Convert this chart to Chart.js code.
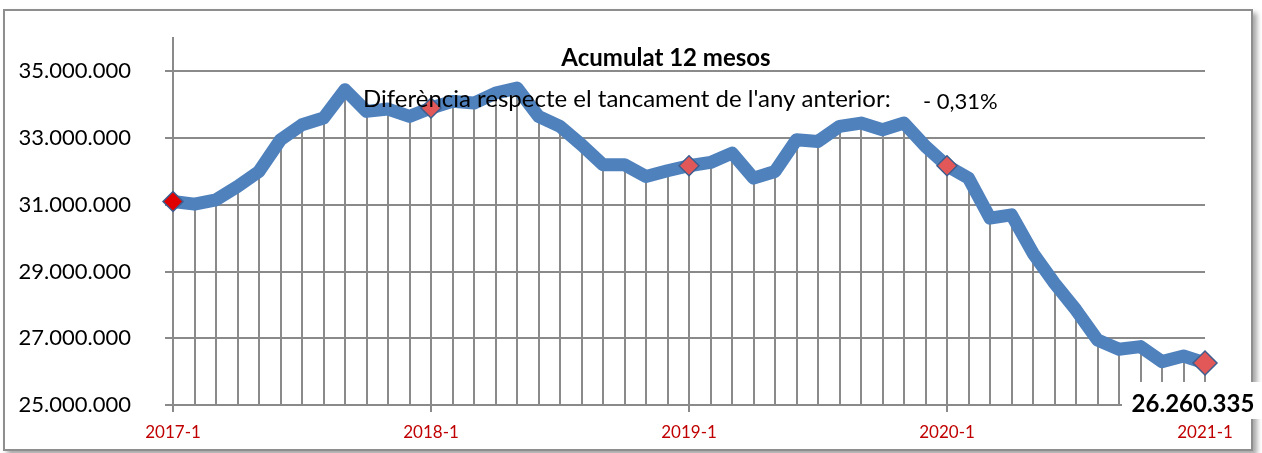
<!DOCTYPE html>
<html>
<head>
<meta charset="utf-8">
<script src="https://cdn.jsdelivr.net/npm/chart.js@4.4.1/dist/chart.umd.min.js"></script>
<style>
  html, body { margin: 0; padding: 0; background: #fff; }
  #wrap { position: relative; width: 1262px; height: 453px; overflow: hidden; }
  #frame {
    position: absolute; left: 3px; top: 9px; width: 1246px; height: 438px;
    border: 2px solid #8e8e8e; background: #fff;
    box-shadow: 4px 4px 5px rgba(0,0,0,0.35);
  }
  #chart { position: absolute; left: 0; top: 0; }
</style>
</head>
<body>
<div id="wrap">
  <div id="frame"></div>
  <canvas id="chart" width="1262" height="453"></canvas>
</div>
<script>
// ---- data ----
const months = [
  "2017-1","2017-2","2017-3","2017-4","2017-5","2017-6","2017-7","2017-8","2017-9","2017-10","2017-11","2017-12",
  "2018-1","2018-2","2018-3","2018-4","2018-5","2018-6","2018-7","2018-8","2018-9","2018-10","2018-11","2018-12",
  "2019-1","2019-2","2019-3","2019-4","2019-5","2019-6","2019-7","2019-8","2019-9","2019-10","2019-11","2019-12",
  "2020-1","2020-2","2020-3","2020-4","2020-5","2020-6","2020-7","2020-8","2020-9","2020-10","2020-11","2020-12",
  "2021-1"
];

// acumulat 12 mesos
const acumulat = [
  31100000, 31020000, 31150000, 31550000, 32000000, 32950000, 33400000, 33600000, 34450000, 33800000, 33870000, 33650000,
  33900000, 34100000, 34050000, 34350000, 34500000, 33650000, 33350000, 32800000, 32200000, 32200000, 31850000, 32020000,
  32170000, 32270000, 32550000, 31800000, 32000000, 32950000, 32900000, 33350000, 33450000, 33250000, 33450000, 32750000,
  32170000, 31800000, 30600000, 30700000, 29550000, 28650000, 27850000, 26950000, 26670000, 26750000, 26300000, 26470000,
  26260335
];

const yTicks = [25000000, 27000000, 29000000, 31000000, 33000000, 35000000];

const titleText = "Acumulat 12 mesos";
const subText = "Diferència respecte el tancament de l'any anterior:";
const pctText = "- 0,31%";

// ---- helpers ----
function fmt(v) {
  return String(Math.round(v)).replace(/\B(?=(\d{3})+(?!\d))/g, ".");
}

const isJan = i => i % 12 === 0;

// drop lines from each point down to the x axis
const dropLines = {
  id: "dropLines",
  beforeDatasetsDraw(chart) {
    const ctx = chart.ctx;
    const bottom = chart.chartArea.bottom;
    const meta = chart.getDatasetMeta(0);
    ctx.save();
    ctx.strokeStyle = "#8a8a8a";
    ctx.lineWidth = 2;
    meta.data.forEach(pt => {
      ctx.beginPath();
      ctx.moveTo(Math.round(pt.x), pt.y);
      ctx.lineTo(Math.round(pt.x), bottom);
      ctx.stroke();
    });
    ctx.restore();
  }
};

// titles and the final value label
const texts = {
  id: "texts",
  afterDraw(chart) {
    const ctx = chart.ctx;
    ctx.save();
    ctx.fillStyle = "#000";
    ctx.textBaseline = "alphabetic";

    ctx.font = "bold 24px Lato";
    ctx.textAlign = "center";
    ctx.fillText(titleText, 666, 66);

    ctx.font = "24px Lato";
    ctx.textAlign = "left";
    ctx.fillText(subText, 363, 107);
    ctx.font = "22px Lato";
    ctx.fillText(pctText, 923, 109);

    // last value label
    const meta = chart.getDatasetMeta(0);
    const last = meta.data[meta.data.length - 1];
    ctx.fillStyle = "#fff";
    ctx.fillRect(last.x - 83, last.y + 19, 140, 37);
    ctx.fillStyle = "#000";
    ctx.font = "bold 24px Lato";
    ctx.textAlign = "center";
    ctx.fillText(fmt(acumulat[acumulat.length - 1]), last.x - 12, last.y + 49);
    ctx.restore();
  }
};

new Chart(document.getElementById("chart"), {
  type: "line",
  data: {
    labels: months,
    datasets: [{
      data: acumulat,
      borderColor: "#4f81bd",
      borderWidth: 13,
      borderJoinStyle: "round",
      borderCapStyle: "round",
      tension: 0,
      fill: false,
      pointStyle: "rectRot",
      pointRadius: acumulat.map((v, i) => i === acumulat.length - 1 ? 12 : (isJan(i) ? 10 : 0)),
      pointBackgroundColor: acumulat.map((v, i) => i === 0 ? "#e00000" : "#e25858"),
      pointBorderColor: "#3d5e8e",
      pointBorderWidth: 1.5
    }]
  },
  options: {
    responsive: false,
    animation: false,
    events: [],
    layout: { padding: { left: 0, top: 38, right: 57, bottom: 0 } },
    plugins: {
      legend: { display: false },
      title: { display: false },
      tooltip: { enabled: false }
    },
    scales: {
      x: {
        offset: false,
        afterFit(scale) { scale.height = 48; },
        grid: {
          drawOnChartArea: false,
          tickLength: 7,
          lineWidth: 2,
          color: c => isJan(c.index) ? "#8a8a8a" : "rgba(0,0,0,0)"
        },
        border: { display: true, color: "#8a8a8a", width: 2 },
        ticks: {
          autoSkip: false,
          maxRotation: 0,
          padding: 10,
          color: "#c00000",
          font: { family: "Lato", size: 17 },
          callback: (v, i) => isJan(i) ? months[i] : ""
        }
      },
      y: {
        min: 25000000,
        max: 36000000,
        afterFit(scale) {
          scale.width = 173;
          scale.paddingTop = 0;
          scale.paddingBottom = 0;
        },
        afterBuildTicks(scale) { scale.ticks = yTicks.map(v => ({ value: v })); },
        grid: { color: "#8a8a8a", lineWidth: 2, tickLength: 8 },
        border: { display: true, color: "#8a8a8a", width: 2 },
        ticks: {
          padding: 34,
          color: "#000",
          font: { family: "Lato", size: 22 },
          callback: v => fmt(v)
        }
      }
    }
  },
  plugins: [dropLines, texts]
});
</script>
</body>
</html>
